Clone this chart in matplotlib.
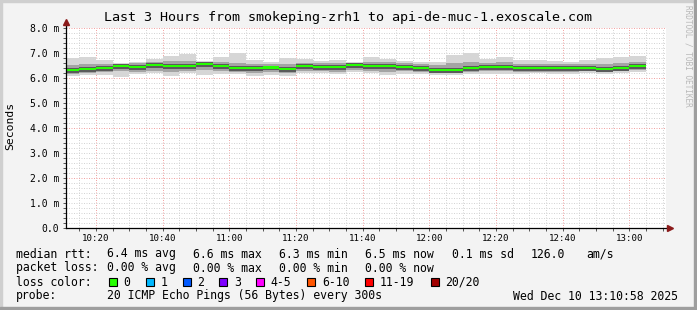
import numpy as np
import matplotlib.pyplot as plt
from matplotlib.patches import Rectangle
from matplotlib.lines import Line2D

plt.rcParams['font.family'] = ['DejaVu Sans Mono']

# ---------------------------------------------------------
# Data (minutes after 10:00, values in ms)
# ---------------------------------------------------------
t_start = 10 + 58 / 60
t_end = t_start + 180
bin_edges = list(range(10, 190, 5))

median = [6.32, 6.37, 6.41, 6.48, 6.45, 6.51, 6.49, 6.49, 6.56, 6.49, 6.41, 6.41,
          6.42, 6.36, 6.48, 6.45, 6.45, 6.53, 6.49, 6.48, 6.45, 6.40, 6.33, 6.33,
          6.40, 6.45, 6.45, 6.41, 6.41, 6.41, 6.41, 6.41, 6.36, 6.41, 6.49]
smoke_max = [6.79, 6.85, 6.72, 6.59, 6.65, 6.76, 6.88, 6.95, 6.68, 6.85, 7.01, 6.72,
             6.65, 6.79, 6.76, 6.68, 6.72, 6.65, 6.85, 6.76, 6.68, 6.63, 6.63, 6.92,
             6.99, 6.76, 6.85, 6.72, 6.72, 6.68, 6.63, 6.72, 6.79, 6.85, 6.88]
smoke_min = [6.08, 6.12, 6.12, 6.05, 6.16, 6.19, 6.08, 6.19, 6.12, 6.16, 6.16, 6.08,
             6.12, 6.08, 6.19, 6.19, 6.16, 6.25, 6.19, 6.12, 6.16, 6.16, 6.12, 6.12,
             6.16, 6.16, 6.16, 6.16, 6.19, 6.16, 6.16, 6.21, 6.16, 6.19, 6.25]
q_hi = [6.52, 6.58, 6.58, 6.56, 6.60, 6.66, 6.68, 6.70, 6.64, 6.66, 6.62, 6.58,
        6.58, 6.56, 6.62, 6.60, 6.60, 6.60, 6.66, 6.64, 6.60, 6.56, 6.52, 6.62,
        6.64, 6.62, 6.64, 6.58, 6.58, 6.58, 6.56, 6.58, 6.56, 6.62, 6.66]
q_lo = [6.16, 6.20, 6.24, 6.28, 6.26, 6.30, 6.24, 6.30, 6.32, 6.28, 6.24, 6.22,
        6.24, 6.20, 6.30, 6.28, 6.26, 6.34, 6.30, 6.26, 6.28, 6.24, 6.20, 6.20,
        6.24, 6.28, 6.28, 6.26, 6.26, 6.26, 6.26, 6.28, 6.24, 6.28, 6.32]
dark_hi = [6.40, 6.46, 6.49, 6.56, 6.54, 6.59, 6.58, 6.58, 6.64, 6.58, 6.49, 6.49,
           6.50, 6.44, 6.56, 6.53, 6.53, 6.61, 6.58, 6.57, 6.54, 6.49, 6.42, 6.42,
           6.48, 6.54, 6.54, 6.50, 6.50, 6.50, 6.50, 6.49, 6.44, 6.50, 6.57]
dark_lo = [6.22, 6.26, 6.29, 6.36, 6.34, 6.40, 6.36, 6.38, 6.44, 6.38, 6.30, 6.30,
           6.31, 6.24, 6.36, 6.34, 6.33, 6.42, 6.38, 6.36, 6.34, 6.29, 6.22, 6.22,
           6.29, 6.34, 6.34, 6.30, 6.30, 6.30, 6.30, 6.30, 6.25, 6.30, 6.38]

xtick_pos = [20, 40, 60, 80, 100, 120, 140, 160, 180]
xtick_labels = ["10:20", "10:40", "11:00", "11:20", "11:40", "12:00", "12:20", "12:40", "13:00"]
ytick_pos = [0, 1, 2, 3, 4, 5, 6, 7, 8]
ytick_labels = ["0.0", "1.0 m", "2.0 m", "3.0 m", "4.0 m", "5.0 m", "6.0 m", "7.0 m", "8.0 m"]

title = "Last 3 Hours from smokeping-zrh1 to api-de-muc-1.exoscale.com"
rtt_stats = ["6.4 ms avg", "6.6 ms max", "6.3 ms min", "6.5 ms now", "0.1 ms sd", "126.0", "am/s"]
loss_stats = ["0.00 % avg", "0.00 % max", "0.00 % min", "0.00 % now"]
loss_labels = ["0", "1", "2", "3", "4-5", "6-10", "11-19", "20/20"]
loss_colors = ["#26ff00", "#00b8ff", "#0059ff", "#7e00ff", "#ff00ff", "#ff5500", "#ff0000", "#a10000"]
probe_text = "20 ICMP Echo Pings (56 Bytes) every 300s"
date_text = "Wed Dec 10 13:10:58 2025"

# ---------------------------------------------------------
# Figure
# ---------------------------------------------------------
W, H = 697, 310
BG = "#f3f3f3"


def fx(x):
    return x / W


def fy(y):
    return 1 - y / H


fig = plt.figure(figsize=(W / 100, H / 100), dpi=100, facecolor=BG)
ax = fig.add_axes([66 / W, 82 / H, 600 / W, 200 / H])
ax.set_facecolor("white")
ax.set_xlim(t_start, t_end)
ax.set_ylim(0, 8)

# grid
dots = (0, (1, 1.5))
for m in np.arange(15, 191, 5):
    major = m % 20 == 0
    ax.axvline(m, color="#f2a5a5" if major else "#d4d4d4", lw=0.72, ls=dots, zorder=0)
for v in np.arange(0.2, 8.01, 0.2):
    major = abs(v / 2 - round(v / 2)) < 1e-6
    ax.axhline(v, color="#f2a5a5" if major else "#d4d4d4", lw=0.72, ls=dots, zorder=0)

# smoke
ax.stairs(smoke_max, bin_edges, baseline=smoke_min, fill=True, color="#d6d6d6", zorder=2)
ax.stairs(q_hi, bin_edges, baseline=q_lo, fill=True, color="#a4a4a4", zorder=3)
ax.stairs(dark_hi, bin_edges, baseline=dark_lo, fill=True, color="#5a5a5a", zorder=4)

# median
med = np.array(median)
ax.stairs(med + 0.045, bin_edges, baseline=med - 0.045, fill=True, color=loss_colors[0], zorder=5)

# axes lines with arrows
for s in ax.spines.values():
    s.set_visible(False)
ax.add_line(Line2D([0, 0], [0, 1.03], transform=ax.transAxes, color="black", lw=0.9, clip_on=False, zorder=6))
ax.add_line(Line2D([0, 1.007], [0, 0], transform=ax.transAxes, color="black", lw=0.9, clip_on=False, zorder=6))
ax.plot([0], [1.03], marker="^", ms=4, color="#8b1a1a", transform=ax.transAxes, clip_on=False, zorder=7)
ax.plot([1.007], [0], marker=">", ms=4, color="#8b1a1a", transform=ax.transAxes, clip_on=False, zorder=7)

ax.set_xticks(xtick_pos)
ax.set_xticklabels(xtick_labels, fontsize=6.6)
ax.set_xticks(np.arange(15, 191, 5), minor=True)
ax.set_yticks(ytick_pos)
ax.set_yticklabels(ytick_labels, fontsize=7.0)
ax.set_yticks(np.arange(0, 8.01, 0.2), minor=True)
ax.tick_params(which="both", length=2, width=0.7, color="#555555")
ax.tick_params(axis="x", pad=2.5)
ax.tick_params(axis="y", pad=3)

fig.text(fx(348), fy(18), title, ha="center", va="center", fontsize=9.6)
fig.text(fx(10), fy(126), "Seconds", rotation=90, ha="center", va="center", fontsize=8.2)
fig.text(fx(688), fy(5), "RRDTOOL / TOBI OETIKER", rotation=270, ha="center", va="top",
         fontsize=5.6, color="#b8b8b8")

# legend rows
fs = 8.3
rows = [254, 268, 282, 296]
fig.text(fx(16), fy(rows[0]), "median rtt:", va="center", fontsize=fs)
for s, x in zip(rtt_stats, [107, 193, 279, 365, 451.7, 531, 586]):
    fig.text(fx(x), fy(rows[0]), s, va="center", fontsize=fs)
fig.text(fx(16), fy(rows[1]), "packet loss:", va="center", fontsize=fs)
for s, x in zip(loss_stats, [107, 193, 279, 365]):
    fig.text(fx(x), fy(rows[1]), s, va="center", fontsize=fs)
fig.text(fx(16), fy(rows[2]), "loss color:", va="center", fontsize=fs)
for lab, col, x in zip(loss_labels, loss_colors, [108.7, 145.7, 182.7, 219.3, 256, 307.3, 365.3, 430.7]):
    fig.add_artist(Rectangle((fx(x), fy(rows[2] + 4)), 8 / W, 8 / H, transform=fig.transFigure,
                             facecolor=col, edgecolor="black", lw=0.8))
    fig.text(fx(x + 14.6), fy(rows[2]), lab, va="center", fontsize=fs)
fig.text(fx(16), fy(rows[3]), "probe:", va="center", fontsize=fs)
fig.text(fx(107), fy(rows[3]), probe_text, va="center", fontsize=fs)
fig.text(fx(512.7), fy(rows[3]), date_text, va="center", fontsize=fs)

# 3d frame
fig.add_artist(Rectangle((0, 0), 2 / W, 1, transform=fig.transFigure, color="#cfcfcf"))
fig.add_artist(Rectangle((0, 1 - 2 / H), 1, 2 / H, transform=fig.transFigure, color="#cfcfcf"))
fig.add_artist(Rectangle((1 - 3 / W, 0), 3 / W, 1, transform=fig.transFigure, color="#9e9e9e"))
fig.add_artist(Rectangle((0, 0), 1, 3 / H, transform=fig.transFigure, color="#9e9e9e"))

fig.savefig("out.png", dpi=100, facecolor=BG)
